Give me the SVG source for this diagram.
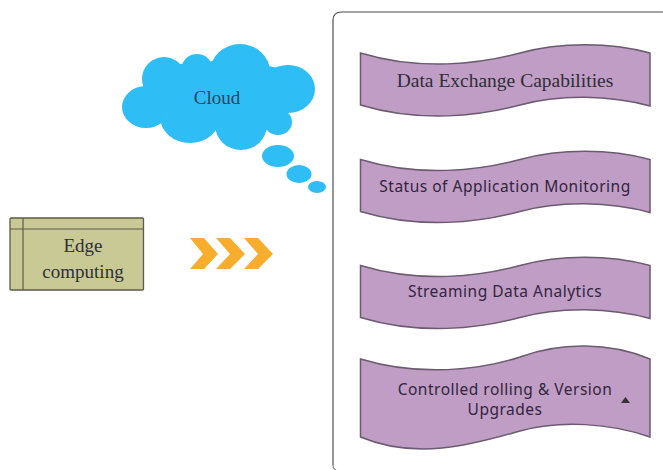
<svg xmlns="http://www.w3.org/2000/svg" width="663" height="470" viewBox="0 0 663 470">
<style>
.serif{font-family:"Liberation Serif",serif;text-anchor:middle;fill:#2f2f35}
.sans{font-family:"Noto Sans",sans-serif;font-size:15.500px;letter-spacing:.5px;text-anchor:middle;fill:#33253f}
.wave{fill:#bf9dc4;stroke:#6b5a70;stroke-width:1.5}
.cl{fill:#2ebdf5}
.chev{fill:#f8ae2c}
</style>
<defs>
<path id="w" class="wave" d="M360.5,53 C420,71 480,64 520,53 C560,42 610,42 650,53 V106 C610,95 560,94 520,105 C480,116 420,123 360.5,105 Z"/>
</defs>
<g id="panel"><path d="M333,470 V20 Q333,12 342,12 H663" fill="#fff" stroke="none"/>
<path d="M333,465 V20" fill="none" stroke="#7c7c7c" stroke-width="1.6"/>
<path d="M333,20 Q333,12 342,12 H663" fill="none" stroke="#4a4a4a" stroke-width="1.2"/>
<path d="M333,465 Q333,469 336,470" fill="none" stroke="#7c7c7c" stroke-width="1.2"/></g>
<g id="cloud">
<ellipse class="cl" cx="146" cy="107" rx="24" ry="21"/>
<ellipse class="cl" cx="164" cy="79" rx="22" ry="22"/>
<ellipse class="cl" cx="197" cy="68" rx="15" ry="14"/>
<ellipse class="cl" cx="240" cy="72" rx="30" ry="28"/>
<ellipse class="cl" cx="288" cy="89" rx="27" ry="24"/>
<ellipse class="cl" cx="278" cy="122" rx="14" ry="13"/>
<ellipse class="cl" cx="241" cy="125" rx="26" ry="25"/>
<ellipse class="cl" cx="190" cy="117" rx="30" ry="26"/>
<polygon class="cl" points="150,90 172,65 197,62 240,60 288,70 285,110 267,130 241,125 215,126 190,120 162,120"/>
<ellipse class="cl" cx="278" cy="156" rx="16" ry="11"/>
<ellipse class="cl" cx="299" cy="174" rx="12.500" ry="9"/>
<ellipse class="cl" cx="317" cy="187" rx="9" ry="6"/>
<text class="serif" x="217" y="104" font-size="19" style="fill:#2a4560">Cloud</text>
</g>
<g id="edge">
<rect x="10" y="218" width="133.500" height="72" rx="1" fill="#c9c995" stroke="#5c5c48" stroke-width="1.3"/>
<path d="M10,229 H143.500 M23,218 V290" fill="none" stroke="#5c5c48" stroke-width="1.2"/>
<text class="serif" x="83" y="252" font-size="19">Edge</text>
<text class="serif" x="83" y="278" font-size="19">computing</text>
</g>
<g id="chevrons">
<path class="chev" d="M190,238 H204 L218,254 L204,269 H190 L203,254 Z"/>
<path class="chev" d="M216,238 H230 L245,254 L230,269 H216 L230,254 Z"/>
<path class="chev" d="M244,238 H258 L273,254 L258,269 H244 L258,254 Z"/>
</g>
<g id="wave1"><use href="#w"/><text class="serif" x="505" y="87" font-size="19.500">Data Exchange Capabilities</text></g>
<g id="wave2"><use href="#w" y="106.500"/><text class="sans" x="505" y="192">Status of Application Monitoring</text></g>
<g id="wave3"><use href="#w" y="212.500"/><text class="sans" x="505" y="297">Streaming Data Analytics</text></g>
<g id="wave4"><path class="wave" d="M360.500,359 C420,377 480,370 520,357 C560,342 610,342 650,359 V437 C610,423 560,420 520,431 C480,442 420,462 360.500,437 Z"/>
<text class="sans" x="505" y="395">Controlled rolling &amp; Version</text>
<text class="sans" x="505" y="415">Upgrades</text>
<path d="M621,403 L625.500,397 L630,403 Z" fill="#333"/></g>
<g id="connectors"></g>
</svg>
